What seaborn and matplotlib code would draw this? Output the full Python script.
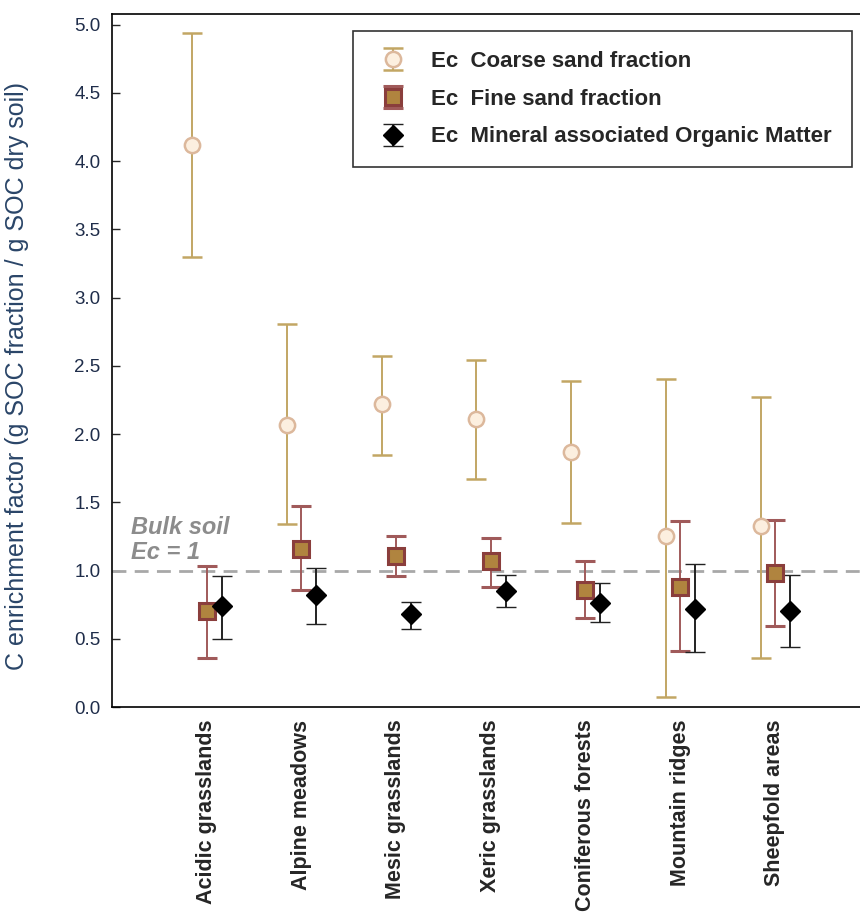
import numpy as np
import pandas as pd
import matplotlib
matplotlib.use("Agg")
import matplotlib.pyplot as plt
import seaborn as sns

################################
# data:
################################

habitats = ["Acidic grasslands", "Alpine meadows", "Mesic grasslands", "Xeric grasslands",
            "Coniferous forests", "Mountain ridges", "Sheepfold areas"]

coarse_mean = [4.12, 2.07, 2.22, 2.11, 1.87, 1.25, 1.33]
coarse_low = [3.30, 1.34, 1.85, 1.67, 1.35, 0.07, 0.36]
coarse_high = [4.94, 2.81, 2.57, 2.54, 2.39, 2.40, 2.27]

fine_mean = [0.70, 1.16, 1.11, 1.07, 0.86, 0.88, 0.98]
fine_low = [0.36, 0.86, 0.96, 0.88, 0.65, 0.41, 0.59]
fine_high = [1.03, 1.47, 1.25, 1.24, 1.07, 1.36, 1.37]

maom_mean = [0.74, 0.82, 0.68, 0.85, 0.76, 0.72, 0.70]
maom_low = [0.50, 0.61, 0.57, 0.73, 0.62, 0.40, 0.44]
maom_high = [0.96, 1.02, 0.77, 0.97, 0.91, 1.05, 0.97]

series = ["Ec  Coarse sand fraction", "Ec  Fine sand fraction", "Ec  Mineral associated Organic Matter"]

df = pd.DataFrame({
    "habitat": habitats * 3,
    "series": np.repeat(series, len(habitats)),
    "mean": coarse_mean + fine_mean + maom_mean,
    "low": coarse_low + fine_low + maom_low,
    "high": coarse_high + fine_high + maom_high,
})

################################
# plot:
################################

sns.set_style("white")
plt.rcParams["font.family"] = ["Liberation Sans", "DejaVu Sans"]

fig = plt.figure(figsize=(8.6, 9.17), dpi=100)
ax = fig.add_axes([0.130, 0.229, 0.87, 0.756])

styles = {
    series[0]: dict(marker="o", ms=11, mfc="#fcefdf", mec="#dcb89c", mew=1.8, ecolor="#c2a664", off=-0.15),
    series[1]: dict(marker="s", ms=11, mfc="#b0843f", mec="#8a3e3c", mew=2.2, ecolor="#a05a5a", off=0.0),
    series[2]: dict(marker="D", ms=10.5, mfc="black", mec="black", mew=1, ecolor="#222222", off=0.16),
}

x = np.arange(len(habitats))
for name, st in styles.items():
    d = df[df["series"] == name]
    m = d["mean"].values
    err = np.vstack([m - d["low"].values, d["high"].values - m])
    ax.errorbar(x + st["off"], m, yerr=err, fmt=st["marker"], ms=st["ms"],
                mfc=st["mfc"], mec=st["mec"], mew=st["mew"], ecolor=st["ecolor"],
                elinewidth=1.4, capsize=7, capthick=1.4, label=name, zorder=3)

ax.axhline(1.0, color="#a8a8a8", lw=2, ls=(0, (5, 3)), zorder=2)
ax.text(0.025, 1.045, "Bulk soil\nEc = 1", fontsize=17, fontweight="bold", fontstyle="italic",
        color="#8c8c8c", transform=ax.get_yaxis_transform(), ha="left", va="bottom",
        linespacing=1.15)

ax.set_xlim(-1.0, 6.9)
ax.set_ylim(0, 5.08)
ticks = np.arange(0, 5.01, 0.5)
ax.set_yticks(ticks)
ax.set_yticklabels([f"{v:.1f}" for v in ticks], color="#1f2d4a", fontsize=13.5)
ax.tick_params(axis="y", direction="in", length=6, width=1, left=True, pad=8)
ax.set_xticks(x)
ax.set_xticklabels(habitats, rotation=90, fontweight="bold", fontsize=15.5, va="top")
ax.tick_params(axis="x", length=0, pad=9)
ax.set_ylabel("C enrichment factor (g SOC fraction / g SOC dry soil)", fontsize=18,
              color="#2a4568")
ax.yaxis.set_label_coords(-0.110, 0.478)

for side in ["left", "bottom", "top"]:
    ax.spines[side].set_color("black")
    ax.spines[side].set_linewidth(1.2)
ax.spines["right"].set_visible(False)

leg = ax.legend(loc="upper right", bbox_to_anchor=(0.989, 0.975), frameon=True, fancybox=False,
                prop={"weight": "bold", "size": 16}, borderpad=0.9, labelspacing=0.75,
                handlelength=1.8, handletextpad=0.8, borderaxespad=0)
leg.get_frame().set_edgecolor("black")
leg.get_frame().set_linewidth(1.2)

plt.savefig("out.png", dpi=100)
